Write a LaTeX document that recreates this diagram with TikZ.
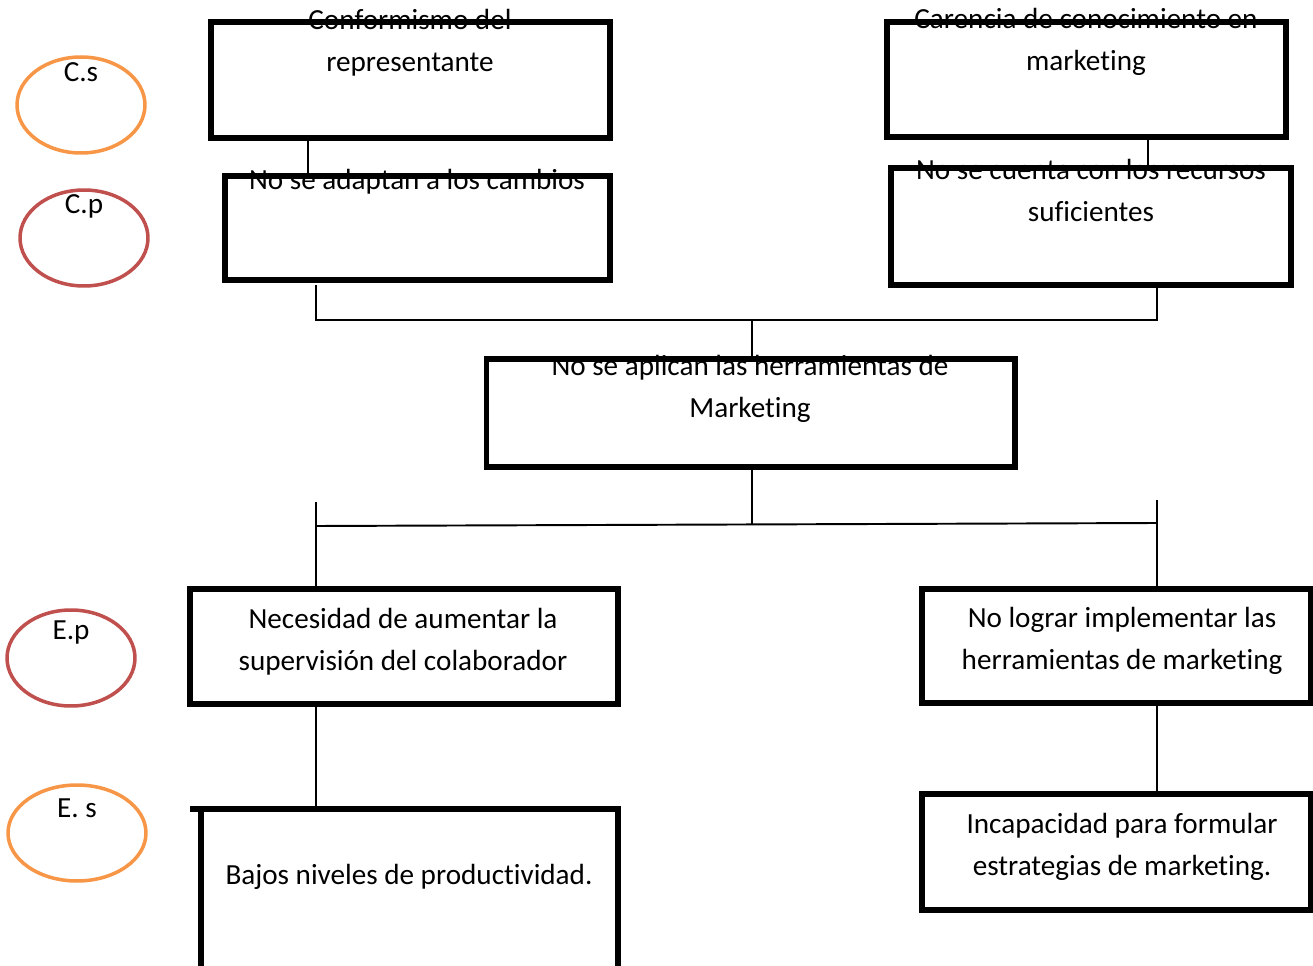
\documentclass[tikz,border=0pt]{standalone}
\usepackage{fontspec}
\setmainfont{Carlito}[Ligatures=NoCommon]
\usetikzlibrary{shapes.geometric}
\definecolor{naranja}{RGB}{247,150,70}
\definecolor{rojo}{RGB}{192,80,77}
\begin{document}
\begin{tikzpicture}[x=0.02cm, y=-0.02cm,
	caja/.style={draw, line width=2.9pt, rectangle, inner sep=0pt, outer sep=0pt},
	texto/.style={align=center, inner sep=0pt, font=\fontsize{16.6pt}{23.9pt}\selectfont},
	nivel/.style={ellipse, draw, line width=2pt, minimum width=2.56cm, minimum height=1.92cm, inner sep=0pt},
	linea/.style={line width=1.1pt}]
\path[use as bounding box, clip] (0,0) rectangle (1313,966);
% las causas
\node[caja, minimum width=7.98cm, minimum height=2.32cm] (cs1) at (410.5,80) {};
\node[caja, minimum width=7.7cm, minimum height=2.08cm] (cp1) at (417.5,228) {};
\node[caja, minimum width=7.98cm, minimum height=2.3cm] (cs2) at (1086.5,79.5) {};
\node[caja, minimum width=8cm, minimum height=2.34cm] (cp2) at (1091,226.5) {};
% el problema
\node[caja, minimum width=10.58cm, minimum height=2.16cm] (prob) at (750.5,413) {};
% los efectos
\node[caja, minimum width=8.56cm, minimum height=2.3cm] (ep1) at (404,646.5) {};
\node[caja, minimum width=7.78cm, minimum height=2.28cm] (ep2) at (1116.5,646) {};
\node[caja, minimum width=8.34cm, minimum height=3.42cm] (es1) at (409.5,894.5) {};
\node[caja, minimum width=7.78cm, minimum height=2.32cm] (es2) at (1116.5,852) {};
\draw[line width=2.9pt] (es1.north west) -- ++(-11,0);
% textos
\node[texto] (t1) at (410,42.5) {Conformismo del\\representante};
\node[texto] (t2) at (417,182) {No se adaptan a los cambios};
\node[texto] (t3) at (1086,42) {Carencia de conocimiento en\\marketing};
\node[texto] (t4) at (1091,190.5) {No se cuenta con los recursos\\suficientes};
\node[texto] (t5) at (750,389) {No se aplican las herramientas de\\Marketing};
\node[texto] (t6) at (403,642) {Necesidad de aumentar la\\supervisión del colaborador};
\node[texto] (t7) at (1122,641) {No lograr implementar las\\herramientas de marketing};
\node[texto] (t8) at (409,877) {Bajos niveles de productividad.};
\node[texto] (t9) at (1122,847) {Incapacidad para formular\\estrategias de marketing.};
% los circulos
\node[nivel, draw=naranja] (ncs) at (81,105) {};
\node[nivel, draw=rojo] (ncp) at (84,238) {};
\node[nivel, draw=rojo] (nep) at (71,658) {};
\node[nivel, draw=naranja, minimum width=2.76cm] (nes) at (77,833) {};
\node[texto] (lcs) at (81,72) {C.s};
\node[texto] (lcp) at (84,206) {C.p};
\node[texto] (lep) at (71,632) {E.p};
\node[texto] (les) at (77,808) {E. s};
% conectores arriba
\coordinate (a1) at (308,0);
\coordinate (a2) at (1148,0);
\draw[linea] (cs1.south -| a1) -- (cp1.north -| a1);
\draw[linea] (cs2.south -| a2) -- (cp2.north -| a2);
\coordinate (j1) at (316,285);
\coordinate (j2) at (316,320);
\coordinate (j3) at (1157,320);
\coordinate (j4) at (752,320);
\draw[linea] (j1) -- (j2) -- (j3) -- (cp2.south -| j3);
\draw[linea] (j4) -- (prob.north -| j4);
% conectores abajo
\coordinate (k1) at (752,525);
\coordinate (k2) at (316,526);
\coordinate (k3) at (1157,523);
\coordinate (k4) at (316,502);
\coordinate (k5) at (1157,500);
\draw[linea] (prob.south -| k1) -- (k1);
\draw[linea] (k2) -- (k3);
\draw[linea] (k4) -- (ep1.north -| k4);
\draw[linea] (k5) -- (ep2.north -| k5);
\draw[linea] (ep1.south -| k4) -- (es1.north -| k4);
\draw[linea] (ep2.south -| k5) -- (es2.north -| k5);
\end{tikzpicture}
\end{document}
